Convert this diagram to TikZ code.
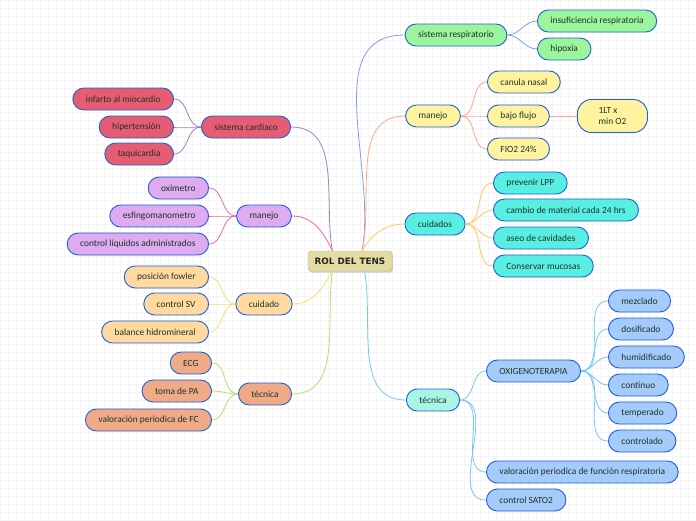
\documentclass[tikz,border=0pt]{standalone}
\usepackage{fontspec}
\setmainfont{Carlito}
\newfontfamily\rootfont{DejaVu Sans}
\usetikzlibrary{shadows}

\definecolor{edgeblue}{HTML}{1F5FD8}
\definecolor{txtdark}{HTML}{1E3326}
\definecolor{fillroot}{HTML}{E3DCA2}
\definecolor{fillgreen}{HTML}{9AF59C}
\definecolor{fillyellow}{HTML}{FFF3A0}
\definecolor{fillcyan}{HTML}{58EEE2}
\definecolor{fillaqua}{HTML}{A8F5E6}
\definecolor{fillblue}{HTML}{A5CBFA}
\definecolor{fillred}{HTML}{E65C72}
\definecolor{fillviolet}{HTML}{DEAAF0}
\definecolor{fillpeach}{HTML}{FFD9A0}
\definecolor{fillsalmon}{HTML}{F0AA88}
\definecolor{lnpurple}{HTML}{A080C0}
\definecolor{lnpink}{HTML}{F06AA0}
\definecolor{lnyellow}{HTML}{F5E070}
\definecolor{lnlime}{HTML}{B8DC70}
\definecolor{lnblue}{HTML}{7FA0E0}
\definecolor{lnsalmon}{HTML}{F8A888}
\definecolor{lnorange}{HTML}{FFC860}
\definecolor{lnsky}{HTML}{78C8F0}

\tikzset{
  topic/.style={draw=edgeblue, line width=0.9pt, rounded corners=11pt,
    minimum height=22pt, inner xsep=13pt, text=txtdark,
    font=\fontsize{9.4}{10.5}\selectfont},
  rootbox/.style={fill=fillroot, draw=fillroot!80!black, line width=0.4pt,
    rounded corners=3pt, minimum width=84pt, minimum height=20pt,
    text=black!85, font=\rootfont\fontsize{8.8}{10}\selectfont\bfseries,
    drop shadow={opacity=0.35, shadow xshift=1pt, shadow yshift=-1.5pt}},
  link/.style={line width=0.8pt},
}

\begin{document}
\begin{tikzpicture}[x=1pt, y=-1pt]
  \useasboundingbox (0,0) rectangle (696,520);
  \draw[black!4, step=8pt] (0,0) grid (696,520);

  \node[rootbox] (root) at (350,261) {ROL DEL TENS};

  % right side
  \node[topic, fill=fillgreen] (resp) at (456,35) {sistema respiratorio};
  \node[topic, fill=fillgreen, anchor=west] (insuf) at (537,21) {insuficiencia respiratoria};
  \node[topic, fill=fillgreen, anchor=west] (hipox) at (537,49) {hipoxia};

  \node[topic, fill=fillyellow] (manR) at (433,116) {manejo};
  \node[topic, fill=fillyellow, anchor=west] (canula) at (487,82) {canula nasal};
  \node[topic, fill=fillyellow, anchor=west] (bajo) at (487,116) {bajo flujo};
  \node[topic, fill=fillyellow, anchor=west, align=left, minimum height=33pt,
    minimum width=70pt, rounded corners=14pt] (litro) at (577,116) {1LT x\\min O2};
  \node[topic, fill=fillyellow, anchor=west] (fio) at (487,149) {FIO2 24\%};

  \node[topic, fill=fillcyan] (cuidR) at (435,224) {cuidados};
  \node[topic, fill=fillcyan, anchor=west] (lpp) at (493,183) {prevenir LPP};
  \node[topic, fill=fillcyan, anchor=west] (cambio) at (493,210) {cambio de material cada 24 hrs};
  \node[topic, fill=fillcyan, anchor=west] (aseo) at (493,238) {aseo de cavidades};
  \node[topic, fill=fillcyan, anchor=west] (mucosa) at (493,266) {Conservar mucosas};

  \node[topic, fill=fillaqua] (tecR) at (433,400) {técnica};
  \node[topic, fill=fillblue, anchor=west] (oxi) at (486,371) {OXIGENOTERAPIA};
  \node[topic, fill=fillblue, anchor=west] (mezc) at (608,301) {mezclado};
  \node[topic, fill=fillblue, anchor=west] (dosi) at (608,329) {dosificado};
  \node[topic, fill=fillblue, anchor=west] (humi) at (608,357) {humidificado};
  \node[topic, fill=fillblue, anchor=west] (cont) at (608,385) {continuo};
  \node[topic, fill=fillblue, anchor=west] (temp) at (608,413) {temperado};
  \node[topic, fill=fillblue, anchor=west] (ctrl) at (608,441) {controlado};
  \node[topic, fill=fillblue, anchor=west] (valR) at (486,472) {valoración periodica de función respiratoria};
  \node[topic, fill=fillblue, anchor=west] (sato) at (486,500) {control SATO2};

  % left side
  \node[topic, fill=fillred] (card) at (246,127) {sistema cardiaco};
  \node[topic, fill=fillred, anchor=east] (infarto) at (174,99) {infarto al miocardio};
  \node[topic, fill=fillred, anchor=east] (hiper) at (174,127) {hipertensión};
  \node[topic, fill=fillred, anchor=east] (taqui) at (174,154) {taquicardia};

  \node[topic, fill=fillviolet] (manL) at (264,216) {manejo};
  \node[topic, fill=fillviolet, anchor=east] (oxim) at (209,188) {oximetro};
  \node[topic, fill=fillviolet, anchor=east] (esfi) at (209,216) {esfingomanometro};
  \node[topic, fill=fillviolet, anchor=east] (liq) at (209,244) {control liquidos administrados};

  \node[topic, fill=fillpeach] (cuidL) at (264,304) {cuidado};
  \node[topic, fill=fillpeach, anchor=east] (fowler) at (209,277) {posición fowler};
  \node[topic, fill=fillpeach, anchor=east] (sv) at (209,304) {control SV};
  \node[topic, fill=fillpeach, anchor=east] (balance) at (209,332) {balance hidromineral};

  \node[topic, fill=fillsalmon] (tecL) at (265,394) {técnica};
  \node[topic, fill=fillsalmon, anchor=east] (ecg) at (212,363) {ECG};
  \node[topic, fill=fillsalmon, anchor=east] (pa) at (212,391) {toma de PA};
  \node[topic, fill=fillsalmon, anchor=east] (valL) at (212,420) {valoración periodica de FC};

  % branches from the root
  \draw[link, lnblue] (root.40) to[out=80, in=180] (resp.west);
  \draw[link, lnsalmon] (root.40) to[out=78, in=180] (manR.west);
  \draw[link, lnorange] (root.40) to[out=60, in=180] (cuidR.west);
  \draw[link, lnsky] (root.325) to[out=280, in=180] (tecR.west);
  \draw[link, lnpurple] (root.150) to[out=100, in=0] (card.east);
  \draw[link, lnpink] (root.150) to[out=115, in=0] (manL.east);
  \draw[link, lnyellow] (root.210) to[out=240, in=0] (cuidL.east);
  \draw[link, lnlime] (root.210) to[out=262, in=0] (tecL.east);

  % sub branches
  \foreach \kid in {insuf, hipox}
    \draw[link, lnblue] (resp.east) to[out=0, in=180] (\kid.west);
  \foreach \kid in {canula, bajo, fio}
    \draw[link, lnsalmon] (manR.east) to[out=0, in=180] (\kid.west);
  \draw[link, lnsalmon] (bajo.east) -- (litro.west);
  \foreach \kid in {lpp, cambio, aseo, mucosa}
    \draw[link, lnorange] (cuidR.east) to[out=0, in=180] (\kid.west);
  \foreach \kid in {oxi, valR, sato}
    \draw[link, lnsky] (tecR.east) to[out=0, in=180] (\kid.west);
  \foreach \kid in {mezc, dosi, humi, cont, temp, ctrl}
    \draw[link, lnsky] (oxi.east) to[out=0, in=180] (\kid.west);

  \foreach \kid in {infarto, hiper, taqui}
    \draw[link, lnpurple] (card.west) to[out=180, in=0] (\kid.east);
  \foreach \kid in {oxim, esfi, liq}
    \draw[link, lnpink] (manL.west) to[out=180, in=0] (\kid.east);
  \foreach \kid in {fowler, sv, balance}
    \draw[link, lnyellow] (cuidL.west) to[out=180, in=0] (\kid.east);
  \foreach \kid in {ecg, pa, valL}
    \draw[link, lnlime] (tecL.west) to[out=180, in=0] (\kid.east);
\end{tikzpicture}
\end{document}
